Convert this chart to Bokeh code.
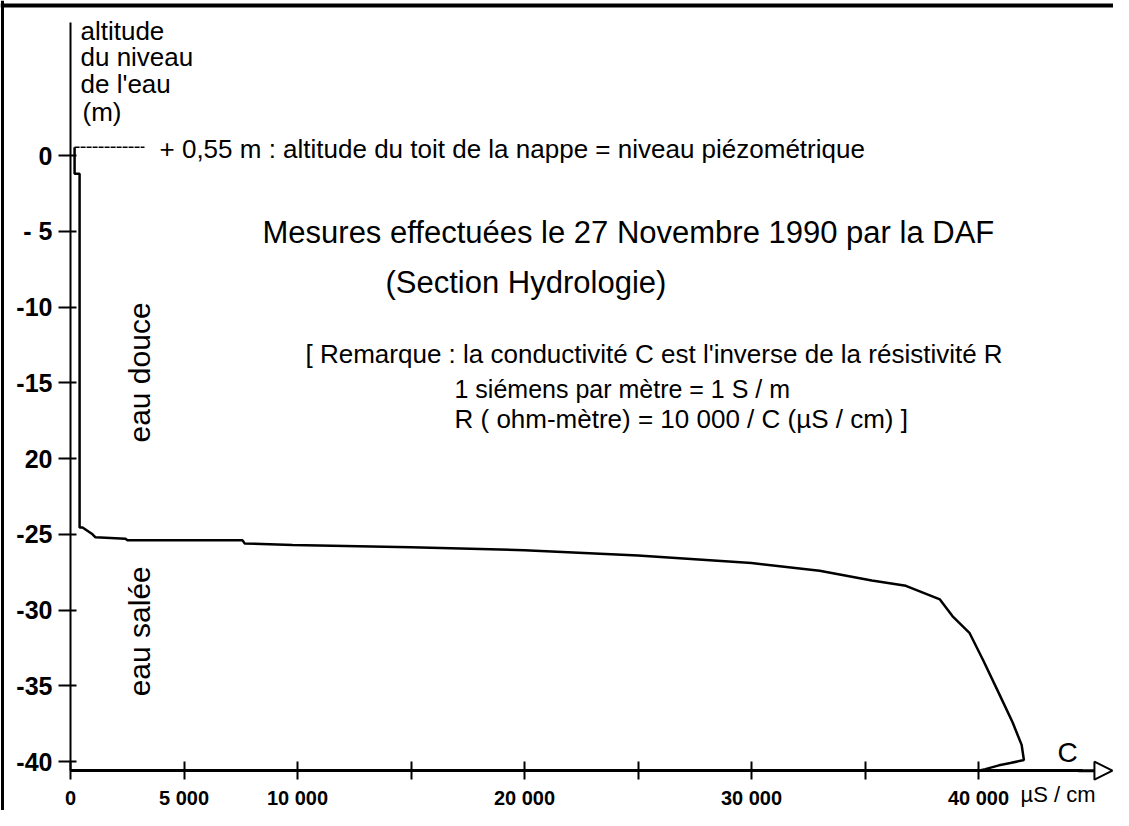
from bokeh.plotting import figure
from bokeh.models import FixedTicker, Label, Span, Arrow, NormalHead, Range1d
from bokeh.embed import file_html
from bokeh.resources import INLINE

# ---- data ----
conductivity = [180, 180, 400, 400, 530, 970, 1100, 2420, 2510, 7580, 7670, 9780,
                15000, 20000, 25000, 30000, 33000, 35300, 36800, 38300, 38850,
                39600, 40200, 40900, 41500, 41900, 42000, 41400, 40900, 40300, 40000]
altitude = [0.55, -1.2, -1.2, -24.55, -24.55, -25.0, -25.2, -25.3, -25.4, -25.4, -25.6, -25.7,
            -25.85, -26.05, -26.4, -26.9, -27.4, -28.05, -28.4, -29.3, -30.4,
            -31.5, -33.3, -35.5, -37.4, -38.9, -39.9, -40.1, -40.25, -40.5, -40.6]
y_ticks = [0, -5, -10, -15, -20, -25, -30, -35, -40]
y_tick_labels = ["0", "- 5", "-10", "-15", "20", "-25", "-30", "-35", "-40"]
x_ticks = [0, 5000, 10000, 15000, 20000, 25000, 30000, 35000, 40000]
x_tick_labels = ["0", "5 000", "10 000", "", "20 000", "", "30 000", "", "40 000"]
toit_nappe = 0.55

FONT = "Liberation Sans"

p = figure(width=1113, height=810, output_backend="svg", toolbar_location=None,
           x_range=Range1d(-3084, 45947), y_range=Range1d(-43.23, 10.23),
           min_border=0, min_border_left=0, min_border_right=0,
           min_border_top=0, min_border_bottom=0)
p.grid.visible = False
p.outline_line_color = None
p.background_fill_color = "white"
p.border_fill_color = "white"

# axes placed inside the frame
xa = p.xaxis[0]
xa.fixed_location = -40.6
xa.bounds = (0, 44600)
xa.ticker = FixedTicker(ticks=x_ticks)
xa.major_label_overrides = {t: l for t, l in zip(x_ticks, x_tick_labels)}
xa.axis_line_width = 3
xa.major_tick_line_width = 2
xa.major_tick_in = 9
xa.major_tick_out = 9
xa.minor_tick_line_color = None
xa.major_label_standoff = 7
xa.major_label_text_font = FONT
xa.major_label_text_font_style = "bold"
xa.major_label_text_font_size = "20px"
xa.major_label_text_color = "black"

ya = p.yaxis[0]
ya.fixed_location = 0
ya.bounds = (-40.6, 8.78)
ya.ticker = FixedTicker(ticks=y_ticks)
ya.major_label_overrides = {t: l for t, l in zip(y_ticks, y_tick_labels)}
ya.axis_line_width = 2
ya.major_tick_line_width = 2
ya.major_tick_in = 6
ya.major_tick_out = 12
ya.minor_tick_line_color = None
ya.major_label_standoff = 6
ya.major_label_text_font = FONT
ya.major_label_text_font_style = "bold"
ya.major_label_text_font_size = "25px"
ya.major_label_text_color = "black"

# outer frame (top and left edges)
p.add_layout(Span(location=-2996, dimension="height", line_color="black", line_width=3))
p.add_layout(Span(location=9.9, dimension="width", line_color="black", line_width=4))

# arrow at the end of the C axis
p.add_layout(Arrow(end=NormalHead(size=18, fill_color="white", line_color="black", line_width=2),
                   x_start=44400, y_start=-40.6, x_end=45900, y_end=-40.6,
                   line_color="black", line_width=3))

# the conductivity profile
p.line(conductivity, altitude, line_color="black", line_width=2.5)
# level of the water table
p.line([conductivity[0], 3260], [toit_nappe, toit_nappe], line_color="black", line_width=1.5,
       line_dash="5 1")

def lab(x, y, text, size="26px", align="left", angle=0, style="normal"):
    p.add_layout(Label(x=x, y=y, text=text, text_font=FONT, text_font_style=style,
                       text_font_size=size, text_align=align, text_baseline="middle",
                       text_color="black", angle=angle, angle_units="deg"))

lab(440, 8.25, "altitude")
lab(440, 6.53, "du niveau")
lab(440, 4.75, "de l'eau")
lab(529, 2.84, "(m)")
lab(3921, 0.4, "+ 0,55 m : altitude du toit de la nappe = niveau piézométrique", size="26px")
lab(8458, -5.08, "Mesures effectuées le 27 Novembre 1990 par la DAF", size="31px")
lab(13877, -8.38, "(Section Hydrologie)", size="31px")
lab(10352, -13.07, "[ Remarque : la conductivité C est l'inverse de la résistivité R", size="26px")
lab(16916, -15.38, "1 siémens par mètre = 1 S / m", size="25px")
lab(16916, -17.36, "R ( ohm-mètre) = 10 000 / C (µS / cm) ]", size="26px")
lab(3040, -14.32, "eau douce", size="30px", align="center", angle=90)
lab(3040, -31.4, "eau salée", size="30px", align="center", angle=90)
lab(43480, -39.4, "C", size="28px")
lab(41850, -42.2, "µS / cm", size="22px")

open("out.html", "w").write(file_html(p, INLINE))
